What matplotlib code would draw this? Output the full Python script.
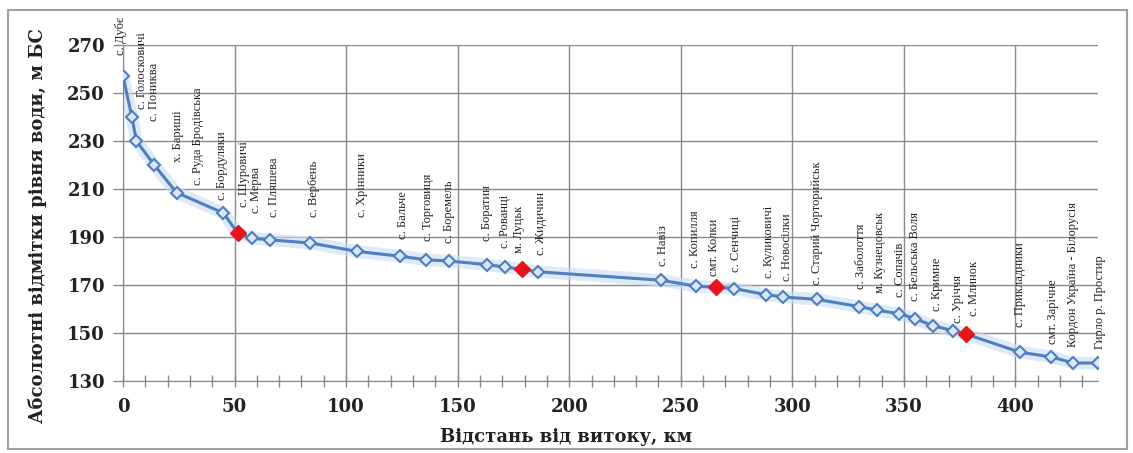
import matplotlib
matplotlib.use("Agg")
import matplotlib.pyplot as plt
from matplotlib.patches import Rectangle
from matplotlib.ticker import MultipleLocator

# distance from source, km / water level, m BS
dist = [0, 4, 6, 14, 24, 45, 51.5, 58, 66, 84, 105, 124, 136, 146, 163, 171,
        179, 186, 241, 257, 266, 274, 288, 296, 311, 330, 338, 348, 355, 363,
        372, 378, 402, 416, 426, 437]
level = [257, 240, 230, 220, 208.5, 200, 191.5, 189.5, 188.8, 187.5, 184, 182,
         180.5, 180, 178.5, 177.5, 176.5, 175.5, 172, 169.5, 169, 168.5, 166,
         165, 164, 161, 159.5, 158, 156, 153, 151, 149.5, 142, 140, 137.5, 137.5]
names = ["с. Дубє", "с. Голосковичі", "с. Пониква", "х. Бариші",
         "с. Руда Бродівська", "с. Бордуляки", "с. Шуровичі", "с. Мерва",
         "с. Пляшева", "с. Вербень", "с. Хрінники", "с. Бальче", "с. Торговиця",
         "с. Боремель", "с. Боратин", "с. Рованці", "м. Луцьк", "с. Жидичин",
         "с. Навіз", "с. Копилля", "смт. Колки", "с. Сенчиці", "с. Куликовичі",
         "с. Новосілки", "с. Старий Чорторийськ", "с. Заболоття",
         "м. Кузнецовськ", "с. Сопачів", "с. Бельська Воля", "с. Кримне",
         "с. Уріччя", "с. Млинок", "с. Прикладники", "смт. Зарічне",
         "Кордон Україна - Білорусія", "Гирло р. Простир"]
# gauging stations (red markers)
stations = [6, 16, 20, 31]

# label offsets, pixels (dx right, dy up from the point)
lab_dx = [-2, 10, 18, 24, 21, -1, 6, 4, 4, 4, 5, 3, 2, 0, 0, 0, -3, 3,
          2, -1, -2, 2, 3, 4, 0, 2, 3, 1, 0, 4, 5, 8, 0, 2, 0, 2]
lab_dy = [21, 8, 20, 3, 8, 13, 26, 25, 23, 26, 34, 17, 19, 18, 24, 19, 16, 17,
          14, 18, 11, 17, 17, 16, 14, 18, 17, 17, 18, 15, 8, 18, 25, 13, 16, 14]

W, H = 1133, 453
fig = plt.figure(figsize=(W / 100, H / 100), dpi=100)
ax = fig.add_axes([123 / W, 1 - 381 / H, 975 / W, 336 / H])

grid = "#8a8a8a"
ax.plot(dist, level, color="#c9dcf2", lw=9, alpha=0.6, solid_capstyle="round", zorder=2)
ax.plot(dist, level, color="#4f7fc0", lw=2.2, marker="D", ms=6.5,
        mfc="#dce8f7", mec="#4f7fc0", mew=1.5, zorder=3)
ax.plot([dist[i] for i in stations], [level[i] for i in stations], ls="none",
        marker="D", ms=8.5, mfc="#e8141b", mec="#e8141b", zorder=4)

pt = 0.72
for i, nm in enumerate(names):
    ax.annotate(nm, (dist[i], level[i]), xytext=(lab_dx[i] * pt, lab_dy[i] * pt),
                textcoords="offset points", rotation=90, ha="center", va="bottom",
                family="Liberation Serif", fontsize=9, color="#222222",
                annotation_clip=False, zorder=5)

ax.set_xlim(0, 437)
ax.set_ylim(130, 270)
ax.xaxis.set_major_locator(MultipleLocator(50))
ax.xaxis.set_minor_locator(MultipleLocator(10))
ax.yaxis.set_major_locator(MultipleLocator(20))
ax.grid(True, which="major", color=grid, lw=1)
for s in ("top", "right"):
    ax.spines[s].set_visible(False)
for s in ("left", "bottom"):
    ax.spines[s].set_color(grid)
ax.tick_params(axis="x", which="both", direction="inout", color=grid, length=9, width=1)
ax.tick_params(axis="y", direction="out", color=grid, length=7, width=1)

bold = dict(family="DejaVu Serif", fontweight="bold", fontsize=13, color="#222222")
ax.set_xticks(range(0, 401, 50))
ax.set_xticklabels([str(v) for v in range(0, 401, 50)], **bold)
ax.set_yticks(range(130, 271, 20))
ax.set_yticklabels([str(v) for v in range(130, 271, 20)], **bold)
ax.tick_params(axis="x", pad=8)
ax.tick_params(axis="y", pad=6)

ax.set_xlabel("Відстань від витоку, км", va="center", **bold)
ax.xaxis.set_label_coords((566 - 123) / 975, (381 - 437) / 336)
ax.set_ylabel("Абсолютні відмітки рівня води, м БС", va="center", **bold)
ax.yaxis.set_label_coords((38 - 123) / 975, (381 - 226) / 336)

fig.patches.append(Rectangle((8 / W, 4 / H), 1119 / W, 439 / H, transform=fig.transFigure,
                             fill=False, ec="#a0a0a0", lw=1.5))
fig.savefig("out.png", dpi=100)
